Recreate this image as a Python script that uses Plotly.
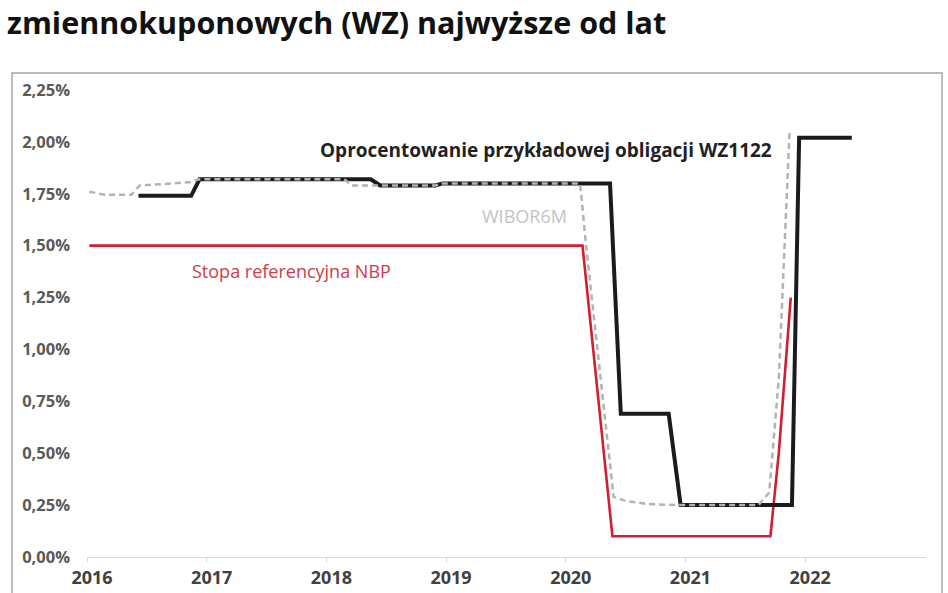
import plotly.graph_objects as go

# ---- data ----
wz_x = [2016.43, 2016.87, 2016.94, 2018.37, 2018.45, 2018.91, 2018.97, 2020.37,
        2020.46, 2020.86, 2020.96, 2021.89, 2021.95, 2022.39]
wz_y = [1.74, 1.74, 1.82, 1.82, 1.79, 1.79, 1.80, 1.80,
        0.69, 0.69, 0.25, 0.25, 2.02, 2.02]

wibor_x = [2016.02, 2016.15, 2016.37, 2016.44, 2016.85, 2016.94, 2018.15, 2018.21,
           2018.91, 2018.97, 2020.12, 2020.17, 2020.40, 2020.50, 2020.69, 2020.94,
           2021.61, 2021.70, 2021.78, 2021.87]
wibor_y = [1.76, 1.745, 1.745, 1.79, 1.805, 1.82, 1.82, 1.79,
           1.79, 1.80, 1.80, 1.50, 0.29, 0.27, 0.255, 0.25,
           0.25, 0.31, 0.86, 2.05]

nbp_x = [2016.02, 2020.14, 2020.39, 2021.71, 2021.78, 2021.88]
nbp_y = [1.50, 1.50, 0.10, 0.10, 0.50, 1.25]

year_ticks = [2016, 2017, 2018, 2019, 2020, 2021, 2022]
year_labels = ["2016", "2017", "2018", "2019", "2020", "2021", "2022"]
pct_ticks = [0, 0.25, 0.5, 0.75, 1.0, 1.25, 1.5, 1.75, 2.0, 2.25]
pct_labels = ["0,00%", "0,25%", "0,50%", "0,75%", "1,00%", "1,25%", "1,50%",
              "1,75%", "2,00%", "2,25%"]

title_text = "zmiennokuponowych (WZ) najwyższe od lat"
label_wz = "Oprocentowanie przykładowej obligacji WZ1122"
label_wibor = "WIBOR6M"
label_nbp = "Stopa referencyjna NBP"

# ---- layout geometry ----
W, H = 948, 593
ML, MR, MT, MB = 87, 22, 90, 36
PW, PH = W - ML - MR, H - MT - MB


def px_x(px):
    return (px - ML) / PW


def px_y(py):
    return (H - MB - py) / PH


FONT = "Open Sans"

fig = go.Figure()
fig.add_trace(go.Scatter(x=nbp_x, y=nbp_y, mode="lines",
                         line=dict(color="#d21f30", width=2.6),
                         hoverinfo="skip", showlegend=False))
fig.add_trace(go.Scatter(x=wz_x, y=wz_y, mode="lines",
                         line=dict(color="#1b1b1f", width=4),
                         hoverinfo="skip", showlegend=False))
fig.add_trace(go.Scatter(x=wibor_x, y=wibor_y, mode="lines",
                         line=dict(color="#b3b3b3", width=2.5, dash="6px,4px"),
                         hoverinfo="skip", showlegend=False))

annotations = [
    dict(text=label_wz, x=2017.93, y=1.963, xref="x", yref="y",
         xanchor="left", yanchor="middle", showarrow=False,
         font=dict(family=FONT, size=19, color="#1f1f26", weight="bold")),
    dict(text=label_wibor, x=2019.28, y=1.641, xref="x", yref="y",
         xanchor="left", yanchor="middle", showarrow=False,
         font=dict(family=FONT, size=18, color="#c4c4c4")),
    dict(text=label_nbp, x=2016.86, y=1.376, xref="x", yref="y",
         xanchor="left", yanchor="middle", showarrow=False,
         font=dict(family=FONT, size=18, color="#d33a4a")),
    dict(text=title_text, x=px_x(5), y=px_y(22), xref="paper", yref="paper",
         xanchor="left", yanchor="middle", showarrow=False,
         font=dict(family=FONT, size=30.5, color="#111111", weight="bold")),
]

shapes = [
    dict(type="rect", xref="paper", yref="paper",
         x0=px_x(12), x1=px_x(942), y0=px_y(610), y1=px_y(73),
         line=dict(color="#a6a6a6", width=1.5), fillcolor="rgba(0,0,0,0)",
         layer="below"),
]

fig.update_layout(
    width=W, height=H, autosize=False,
    margin=dict(l=ML, r=MR, t=MT, b=MB, autoexpand=False),
    paper_bgcolor="white", plot_bgcolor="white",
    annotations=annotations, shapes=shapes,
    font=dict(family=FONT),
    xaxis=dict(range=[2016, 2023.01], tickmode="array", tickvals=year_ticks,
               ticktext=year_labels, showgrid=False, zeroline=False,
               showline=True, linecolor="#d9d9d9", linewidth=1,
               ticks="outside", ticklen=4, tickcolor="#d9d9d9",
               tickfont=dict(family=FONT, size=18, color="#404040", weight="bold"),
               ticklabelshift=5, automargin=False),
    yaxis=dict(range=[0, 2.25], tickmode="array", tickvals=pct_ticks,
               ticktext=pct_labels, showgrid=False, zeroline=False,
               showline=False, ticks="", ticklabelstandoff=16,
               tickfont=dict(family=FONT, size=16.5, color="#5a5a5a", weight="bold"),
               automargin=False),
)

fig.write_html("out.html",
               config={"displayModeBar": False},
               post_script="document.body.style.margin='0';"
                           "document.body.style.overflow='hidden';")
